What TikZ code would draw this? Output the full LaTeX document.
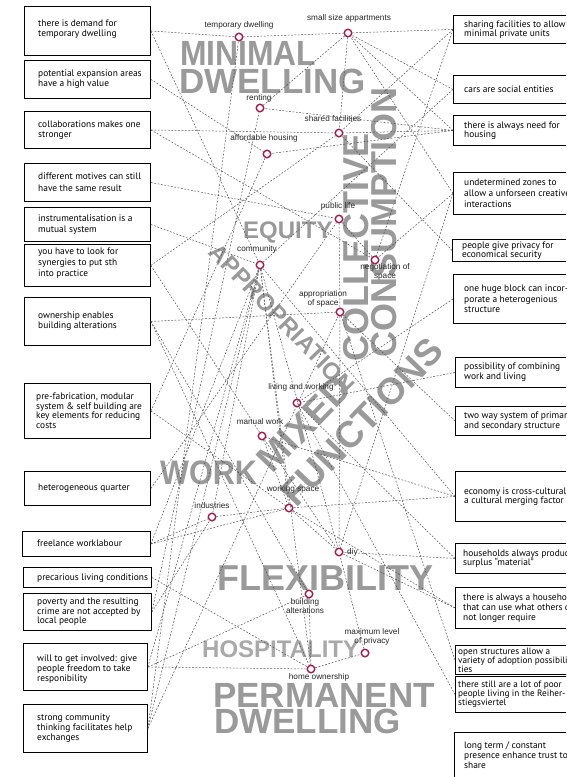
\documentclass[tikz,border=0pt]{standalone}
\usepackage{fontspec}
\setmainfont{PT Sans}
\newfontfamily\lblf{Liberation Sans}
\newfontfamily\bigf{Liberation Sans}
\definecolor{crim}{HTML}{9E1F4F}
\definecolor{wgray}{HTML}{9A9A9A}
\definecolor{dline}{HTML}{505050}
\tikzset{
 box/.style={draw=black, line width=0.9pt, fill=white, anchor=north west, inner sep=0pt, minimum width=126pt},
 rbox/.style={box, minimum width=135pt},
 btxt/.style={anchor=west, inner sep=0pt, align=left, font=\fontsize{9.4}{10}\selectfont},
 pt/.style={circle, draw=crim, line width=1.4pt, fill=white, minimum size=7.5pt, inner sep=0pt},
 lbl/.style={font=\lblf\fontsize{8.2}{8.6}\selectfont, inner sep=0pt, align=center, text=black!85},
 big/.style={font=\bigf\bfseries\fontsize{35}{35}\selectfont, text=wgray, inner sep=0pt, anchor=base west},
 con/.style={draw=dline, line width=0.5pt, dash pattern=on 1.8pt off 1.6pt},
}
\begin{document}
\begin{tikzpicture}[x=1pt,y=-1pt]
\useasboundingbox (0,0) rectangle (566,777);
\fill[white] (0,0) rectangle (566,777);
\clip (0,0) rectangle (566,777);
% big words
\node[big, xscale=0.91] (wmin) at (180,65) {MINIMAL};
\node[big] (wdw1) at (179,93) {DWELLING};
\node[big, font=\bigf\bfseries\fontsize{24}{24}\selectfont] (weq) at (243,238) {EQUITY};
\node[big, font=\bigf\bfseries\fontsize{24}{24}\selectfont, anchor=center, rotate=-46] (wapp) at (282,319) {APPROPRIATION};
\node[big, rotate=90, font=\bigf\bfseries\fontsize{36}{36}\selectfont] (wcol) at (368,362) {COLLECTIVE};
\node[big, rotate=90, font=\bigf\bfseries\fontsize{36}{36}\selectfont] (wcon) at (396,358) {CONSUMPTION};
\node[big, font=\bigf\bfseries\fontsize{34}{34}\selectfont, xscale=0.9] (wwork) at (160,484) {WORK};
\node[big, anchor=center, rotate=46, font=\bigf\bfseries\fontsize{37}{37}\selectfont] (wmix) at (304,424) {MIXED};
\node[big, anchor=center, rotate=46, font=\bigf\bfseries\fontsize{37}{37}\selectfont] (wfun) at (362,422) {FUNCTIONS};
\node[big, font=\bigf\bfseries\fontsize{36}{36}\selectfont] (wflex) at (217,590) {FLEXIBILITY};
\node[big, font=\bigf\bfseries\fontsize{24}{24}\selectfont, text=wgray!85] (whosp) at (202,657) {HOSPITALITY};
\node[big] (wperm) at (213,707) {PERMANENT};
\node[big] (wdw2) at (214,733) {DWELLING};
% concept points
\node[pt] (td) at (239,37) {};
\node[pt] (ss) at (348,33) {};
\node[pt] (re) at (260,108) {};
\node[pt] (sf) at (339,133) {};
\node[pt] (ah) at (267,154) {};
\node[pt] (pl) at (339,219) {};
\node[pt] (co) at (260,265) {};
\node[pt] (ne) at (375,260) {};
\node[pt] (ap) at (340,312) {};
\node[pt] (lw) at (297,403) {};
\node[pt] (mw) at (262,436) {};
\node[pt] (ws) at (289,508) {};
\node[pt] (in) at (212,517) {};
\node[pt] (di) at (339,552) {};
\node[pt] (ba) at (309,594) {};
\node[pt] (ml) at (365,653) {};
\node[pt] (ho) at (311,669) {};
% labels
\node[lbl] (tdl) at (239,25) {temporary dwelling};
\node[lbl] (ssl) at (349,18) {small size appartments};
\node[lbl] (rel) at (259,98) {renting};
\node[lbl] (sfl) at (333,119) {shared facilities};
\node[lbl] (ahl) at (264,138) {affordable housing};
\node[lbl] (pll) at (338,206) {public life};
\node[lbl] (col) at (257,249) {community};
\node[lbl] (nel) at (385,272) {negotiation of\\space};
\node[lbl] (apl) at (323,299) {appropriation\\of space};
\node[lbl] (lwl) at (301,387) {living and working};
\node[lbl] (mwl) at (260,422) {manual work};
\node[lbl] (wsl) at (293,489) {working space};
\node[lbl] (inl) at (212,506) {industries};
\node[lbl, anchor=west] (dil) at (347,552) {diy};
\node[lbl] (bal) at (305,606) {building\\alterations};
\node[lbl] (mll) at (372,637) {maximum level\\of privacy};
\node[lbl] (hol) at (319,677) {home ownership};
% left boxes
\node[box, minimum height=49pt] (l1) at (24,6) {};
\node[btxt] (l1t) at ([xshift=14pt,yshift=2pt]l1.west) {there is demand for\\temporary dwelling};
\node[box, minimum height=38pt] (l2) at (24,60) {};
\node[btxt] (l2t) at ([xshift=14pt]l2.west) {potential expansion areas\\have a high value};
\node[box, minimum height=37pt] (l3) at (24,111) {};
\node[btxt] (l3t) at ([xshift=14pt]l3.west) {collaborations makes one\\stronger};
\node[box, minimum height=38pt] (l4) at (24,163) {};
\node[btxt, font=\fontsize{9.4}{12}\selectfont] (l4t) at ([xshift=14pt]l4.west) {different motives can still\\have the same result};
\node[box, minimum height=34pt] (l5) at (24,207) {};
\node[btxt, font=\fontsize{9.4}{11.5}\selectfont] (l5t) at ([xshift=14pt]l5.west) {instrumentalisation is a\\mutual system};
\node[box, minimum height=42pt] (l6) at (24,244) {};
\node[btxt, font=\fontsize{9.4}{11}\selectfont] (l6t) at ([xshift=14pt,yshift=2pt]l6.west) {you have to look for\\synergies to put sth\\into practice};
\node[box, minimum height=48pt] (l7) at (24,297) {};
\node[btxt] (l7t) at ([xshift=14pt]l7.west) {ownership enables\\building alterations};
\node[box, minimum height=55pt] (l8) at (24,383) {};
\node[btxt, font=\fontsize{9.4}{9.5}\selectfont] (l8t) at ([xshift=12pt]l8.west) {pre-fabrication, modular\\system \& self building are\\key elements for reducing\\costs};
\node[box, minimum height=34pt] (l9) at (24,471) {};
\node[btxt] (l9t) at ([xshift=14pt]l9.west) {heterogeneous quarter};
\node[box, minimum height=25pt, minimum width=128pt] (l10) at (22,531) {};
\node[btxt] (l10t) at ([xshift=15pt,yshift=1pt]l10.west) {freelance worklabour};
\node[box, minimum height=20pt, minimum width=128pt] (l11) at (23,567) {};
\node[btxt] (l11t) at ([xshift=14pt,yshift=-1pt]l11.west) {precarious living conditions};
\node[box, minimum height=37pt, minimum width=128pt] (l12) at (23,593) {};
\node[btxt, font=\fontsize{9.4}{9.5}\selectfont] (l12t) at ([xshift=14pt]l12.west) {poverty and the resulting\\crime are not accepted by\\local people};
\node[box, minimum height=47pt, minimum width=124pt] (l13) at (23,643) {};
\node[btxt, font=\fontsize{9.4}{9.8}\selectfont] (l13t) at ([xshift=14pt,yshift=-2pt]l13.west) {will to get involved: give\\people freedom to take\\responibility};
\node[box, minimum height=48pt, minimum width=124pt] (l14) at (23,704) {};
\node[btxt, font=\fontsize{9.4}{9.8}\selectfont] (l14t) at ([xshift=14pt]l14.west) {strong community\\thinking facilitates help\\exchanges};
% right boxes
\node[rbox, minimum height=28pt] (r1) at (453,15) {};
\node[btxt, font=\fontsize{9.4}{9.5}\selectfont] (r1t) at ([xshift=11pt]r1.west) {sharing facilities to allow\\minimal private units};
\node[rbox, minimum height=28pt] (r2) at (453,75) {};
\node[btxt] (r2t) at ([xshift=11pt]r2.west) {cars are social entities};
\node[rbox, minimum height=30pt] (r3) at (453,115) {};
\node[btxt, font=\fontsize{9.4}{9.5}\selectfont] (r3t) at ([xshift=11pt]r3.west) {there is always need for\\housing};
\node[rbox, minimum height=42pt] (r4) at (453,172) {};
\node[btxt, font=\fontsize{9.4}{11}\selectfont] (r4t) at ([xshift=11pt]r4.west) {undetermined zones to\\allow a unforseen creative\\interactions};
\node[rbox, minimum height=22pt] (r5) at (452,239) {};
\node[btxt, font=\fontsize{9.4}{9.5}\selectfont] (r5t) at ([xshift=10pt]r5.west) {people give privacy for\\economical security};
\node[rbox, minimum height=49pt] (r6) at (453,274) {};
\node[btxt, font=\fontsize{9.4}{10.5}\selectfont] (r6t) at ([xshift=11pt]r6.west) {one huge block can incor-\\porate a heterogenious\\structure};
\node[rbox, minimum height=30pt] (r7) at (455,357) {};
\node[btxt] (r7t) at ([xshift=9pt]r7.west) {possibility of combining\\work and living};
\node[rbox, minimum height=29pt] (r8) at (455,406) {};
\node[btxt, font=\fontsize{9.4}{9.5}\selectfont] (r8t) at ([xshift=9pt]r8.west) {two way system of primary\\and secondary structure};
\node[rbox, minimum height=50pt] (r9) at (455,471) {};
\node[btxt, font=\fontsize{9.4}{9.5}\selectfont] (r9t) at ([xshift=9pt]r9.west) {economy is cross-cultural and\\a cultural merging factor};
\node[rbox, minimum height=30pt] (r10) at (455,543) {};
\node[btxt, font=\fontsize{9.4}{9.5}\selectfont] (r10t) at ([xshift=8pt]r10.west) {households always produce\\surplus “material”};
\node[rbox, minimum height=41pt] (r11) at (455,587) {};
\node[btxt, font=\fontsize{9.4}{9.8}\selectfont] (r11t) at ([xshift=8pt]r11.west) {there is always a household\\that can use what others do\\not longer require};
\node[rbox, minimum height=29pt] (r12) at (455,645) {};
\node[btxt, font=\fontsize{9.2}{9}\selectfont] (r12t) at ([xshift=3pt]r12.west) {open structures allow a\\variety of adoption possibili-\\ties};
\node[rbox, minimum height=36pt] (r13) at (455,676) {};
\node[btxt, font=\fontsize{9.2}{9.2}\selectfont] (r13t) at ([xshift=3pt]r13.west) {there still are a lot of poor\\people living in the Reiher-\\stiegsviertel};
\node[rbox, minimum height=60pt] (r14) at (454,732) {};
\node[btxt, font=\fontsize{9.4}{10}\selectfont, anchor=north west] (r14t) at (464,742) {long term / constant\\presence enhance trust to\\share};
% connectors
\draw[con] (l1.east) -- (td);
\draw[con] (l1.east) -- (co);
\draw[con] (td) -- (ss);
\draw[con] (l2.east) -- (ah);
\draw[con] (l3.east) -- (sf);
\draw[con] (l3.east) -- (ne);
\draw[con] (l4.east) -- (pl);
\draw[con] (l5.east) -- (co);
\draw[con] (l6.east) -- (sf);
\draw[con] (l6.east) -- (mw);
\draw[con] (l7.east) -- (ap);
\draw[con] (l7.east) -- (ba);
\draw[con] (l7.east) -- (ho);
\draw[con] (l8.east) -- (ah);
\draw[con] (l8.east) -- (ws);
\draw[con] (l9.east) -- (pl);
\draw[con] (l10.east) -- (in);
\draw[con] (l10.east) -- (ws);
\draw[con] (l10.east) -- (co);
\draw[con] (l11.east) -- (ho);
\draw[con] (l12.east) -- (in);
\draw[con] (l12.east) -- (re);
\draw[con] (l13.east) -- (ba);
\draw[con] (l13.east) -- (ho);
\draw[con] (l13.east) -- (co);
\draw[con] (l14.east) -- (td);
\draw[con] (l14.east) -- (ap);
\draw[con] (l14.east) -- (co);
\draw[con] (in) -- (ws);
\draw[con] (in) -- (co);
\draw[con] (ho) -- (ba);
\draw[con] (ho) -- (ml);
\draw[con] (ml) -- (di);
\draw[con] (ss) -- (sf);
\draw[con] (ss) -- (re);
\draw[con] (pl) -- (ap);
\draw[con] (ap) -- (di);
\draw[con] (pl) -- (ne);
\draw[con] (co) -- (ws);
\draw[con] (co) -- (di);
\draw[con] (co) -- (ho);
\draw[con] (mw) -- (ws);
\draw[con] (mw) -- (di);
\draw[con] (ws) -- (di);
\draw[con] (r1.west) -- (ss);
\draw[con] (r1.west) -- (sf);
\draw[con] (r1.west) -- (ne);
\draw[con] (r2.west) -- (co);
\draw[con] (r2.west) -- (ss);
\draw[con] (r3.west) -- (ss);
\draw[con] (r3.west) -- (sf);
\draw[con] (r3.west) -- (ah);
\draw[con] (r3.west) -- (re);
\draw[con] (r4.west) -- (ne);
\draw[con] (r4.west) -- (di);
\draw[con] (r4.west) -- (ss);
\draw[con] (r5.west) -- (sf);
\draw[con] (r6.west) -- (lw);
\draw[con] (r7.west) -- (lw);
\draw[con] (r8.west) -- (ap);
\draw[con] (r9.west) -- (co);
\draw[con] (r9.west) -- (mw);
\draw[con] (r9.west) -- (ws);
\draw[con] (r10.west) -- (lw);
\draw[con] (r10.west) -- (di);
\draw[con] (r11.west) -- (ws);
\draw[con] (r11.west) -- (di);
\draw[con] (r12.west) -- (ap);
\draw[con] (r13.west) -- (lw);
\end{tikzpicture}
\end{document}
